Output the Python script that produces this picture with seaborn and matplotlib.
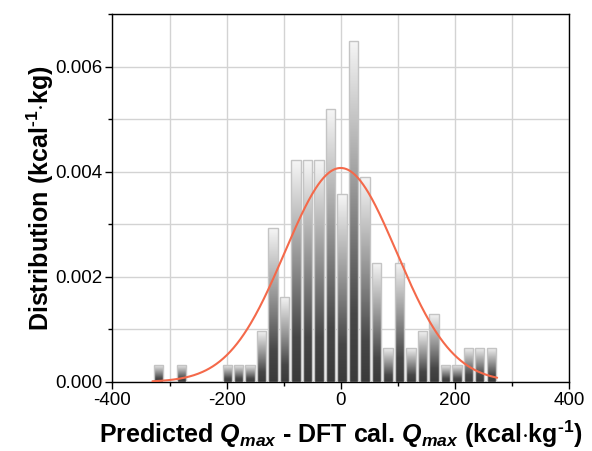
import numpy as np
import pandas as pd
import matplotlib
matplotlib.use("Agg")
import matplotlib.pyplot as plt
from matplotlib.colors import LinearSegmentedColormap
from matplotlib.ticker import MultipleLocator, FormatStrFormatter
import seaborn as sns

# ---- data ----
bin_start = -330.0
bin_width = 20.14
counts = [1, 0, 1, 0, 0, 0, 1, 1, 1, 3, 9, 5, 13, 13, 13, 16, 11, 20, 12, 7,
          2, 7, 2, 3, 4, 1, 1, 2, 2, 2]
fit_mean = 0.0
fit_std = 98.0
x_ticks = [-400, -200, 0, 200, 400]
y_ticks = [0.000, 0.002, 0.004, 0.006]

edges = bin_start + bin_width * np.arange(len(counts) + 1)
centers = (edges[:-1] + edges[1:]) / 2
df = pd.DataFrame({"diff": centers, "n": counts})

sns.set_theme(style="white")
plt.rcParams["font.family"] = ["Liberation Sans", "DejaVu Sans"]
plt.rcParams["mathtext.fontset"] = "custom"
plt.rcParams["mathtext.rm"] = "Liberation Sans"
plt.rcParams["mathtext.bf"] = "Liberation Sans:bold"
plt.rcParams["mathtext.it"] = "Liberation Sans:italic"
plt.rcParams["mathtext.bfit"] = "Liberation Sans:bold:italic"
plt.rcParams["axes.unicode_minus"] = False
for k in ["text.color", "axes.labelcolor", "xtick.color", "ytick.color"]:
    plt.rcParams[k] = "black"

fig = plt.figure(figsize=(5.92, 4.51), dpi=100)
ax = fig.add_axes([0.190, 0.153, 0.771, 0.816])

sns.histplot(data=df, x="diff", weights="n", binwidth=bin_width,
             binrange=(float(edges[0]), float(edges[-1])), stat="density",
             shrink=0.8, ax=ax, edgecolor="#c4c4c4", linewidth=1.0,
             facecolor="none", alpha=1)

cmap = LinearSegmentedColormap.from_list(
    "bar", [(0.0, "#3a3a3a"), (0.2, "#474747"), (1.0, "#f6f6f6")])
grad = np.linspace(0, 1, 256).reshape(-1, 1)
for p in list(ax.patches):
    h = p.get_height()
    if h <= 0:
        p.set_visible(False)
        continue
    x0 = p.get_x()
    w = p.get_width()
    p.set_facecolor("none")
    p.set_zorder(3)
    im = ax.imshow(grad, cmap=cmap, origin="lower", aspect="auto",
                   extent=[x0, x0 + w, 0, h], zorder=2)
    im.set_clip_path(p)

xs = np.linspace(edges[0], edges[-1], 400)
pdf = np.exp(-0.5 * ((xs - fit_mean) / fit_std) ** 2) / (fit_std * np.sqrt(2 * np.pi))
sns.lineplot(x=xs, y=pdf, ax=ax, color="#f4694a", linewidth=1.5, zorder=4)

ax.set_xlim(-400, 400)
ax.set_ylim(0, 0.007)
ax.set_xticks(x_ticks)
ax.set_yticks(y_ticks)
ax.xaxis.set_minor_locator(MultipleLocator(100))
ax.yaxis.set_minor_locator(MultipleLocator(0.001))
ax.yaxis.set_major_formatter(FormatStrFormatter("%.3f"))
ax.set_axisbelow(True)
ax.grid(True, which="both", color="#d3d3d3", linewidth=1.0)
ax.tick_params(which="major", direction="out", length=5, width=1, color="black",
               labelsize=13.5, labelcolor="black", bottom=True, left=True, pad=2)
ax.tick_params(which="minor", direction="out", length=3, width=1, color="black",
               bottom=True, left=True)
for s in ax.spines.values():
    s.set_visible(True)
    s.set_color("black")
    s.set_linewidth(1.0)

ax.set_xlabel("Predicted $\\mathbfit{Q}_{\\mathbfit{max}}$ - DFT cal. $\\mathbfit{Q}_{\\mathbfit{max}}$ (kcal$\\mathbf{\\cdot}$kg$^{\\mathbf{\u20101}}$)",
              fontsize=18, fontweight="bold", labelpad=7, color="black")
ax.set_ylabel("Distribution (kcal$^{\\mathbf{\u20101}}$$\\mathbf{\\cdot}$kg)",
              fontsize=18, fontweight="bold", labelpad=0, color="black")

fig.savefig("out.png", dpi=100)
